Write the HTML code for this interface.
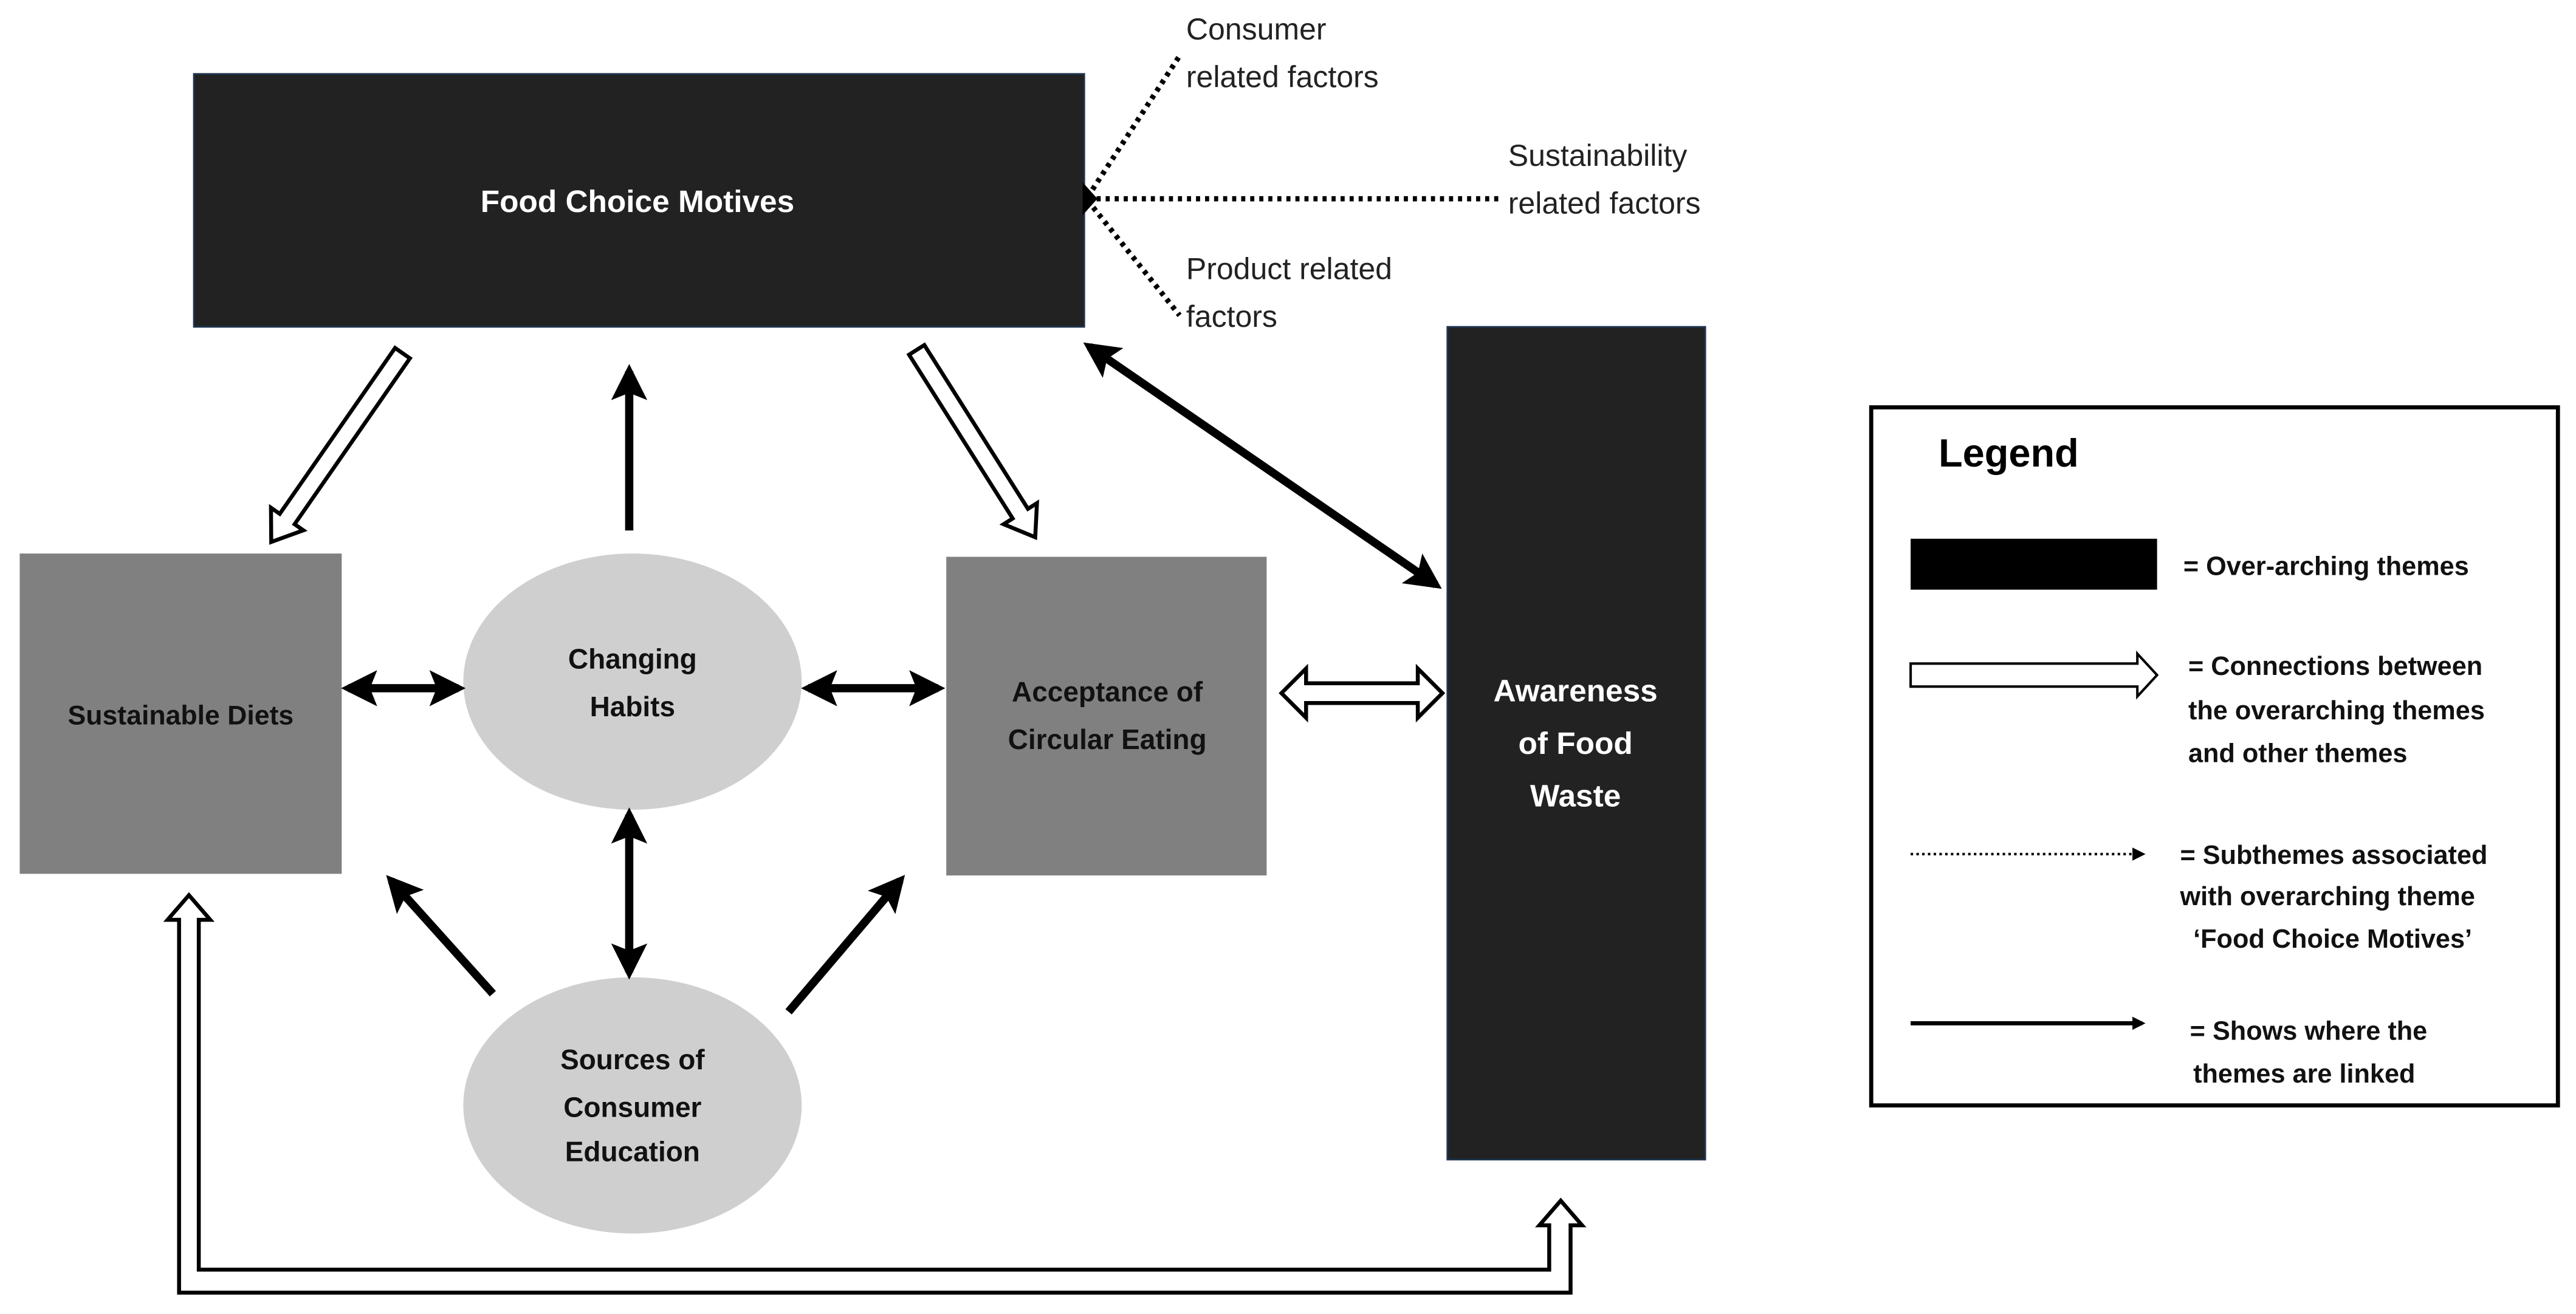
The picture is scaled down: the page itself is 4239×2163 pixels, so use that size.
<!DOCTYPE html>
<html><head><meta charset="utf-8"><style>
html,body{margin:0;padding:0;background:#fff;}
svg{display:block;}
text{font-family:"Liberation Sans",sans-serif;}
.b{font-weight:bold;}
</style></head><body>
<svg width="4239" height="2163" viewBox="0 0 1568 800" preserveAspectRatio="none" xmlns="http://www.w3.org/2000/svg">
<defs>
<marker id="h" markerUnits="userSpaceOnUse" markerWidth="22" markerHeight="22" refX="16" refY="10" orient="auto-start-reverse" viewBox="0 0 20 20">
<path d="M0,0 L20,10 L0,20 L4,10 Z" fill="#000"/></marker>
<marker id="d" markerUnits="userSpaceOnUse" markerWidth="8" markerHeight="8" refX="6" refY="4" orient="auto" viewBox="0 0 8 8">
<path d="M0,0 L8,4 L0,8 Z" fill="#000"/></marker>
</defs>

<rect x="118" y="45" width="542" height="154" fill="#222" stroke="#1f3550" stroke-width="1"/>
<text x="388" y="129" fill="#fff" class="b" font-size="19" text-anchor="middle">Food Choice Motives</text>

<rect x="12" y="337" width="196" height="195" fill="#808080"/>
<text x="110" y="441" class="b" font-size="16.5" text-anchor="middle" fill="#111">Sustainable Diets</text>

<ellipse cx="385" cy="415" rx="103" ry="78" fill="#d0cfcf"/>
<text x="385" y="407" class="b" font-size="17" text-anchor="middle" fill="#111">Changing</text>
<text x="385" y="436" class="b" font-size="17" text-anchor="middle" fill="#111">Habits</text>

<rect x="576" y="339" width="195" height="194" fill="#808080"/>
<text x="674" y="427" class="b" font-size="17" text-anchor="middle" fill="#111">Acceptance of</text>
<text x="674" y="456" class="b" font-size="17" text-anchor="middle" fill="#111">Circular Eating</text>

<rect x="881" y="199" width="157" height="507" fill="#222" stroke="#1f3550" stroke-width="1"/>
<text x="959" y="427" class="b" font-size="19" text-anchor="middle" fill="#fff">Awareness</text>
<text x="959" y="459" class="b" font-size="19" text-anchor="middle" fill="#fff">of Food</text>
<text x="959" y="491" class="b" font-size="19" text-anchor="middle" fill="#fff">Waste</text>

<ellipse cx="385" cy="673" rx="103" ry="78" fill="#d0cfcf"/>
<text x="385" y="651" class="b" font-size="17" text-anchor="middle" fill="#111">Sources of</text>
<text x="385" y="680" class="b" font-size="17" text-anchor="middle" fill="#111">Consumer</text>
<text x="385" y="707" class="b" font-size="17" text-anchor="middle" fill="#111">Education</text>

<g stroke="#000" stroke-width="3.2" stroke-dasharray="2.5,3" fill="none">
<line x1="662" y1="120" x2="718" y2="34"/>
<line x1="662" y1="121" x2="914" y2="121"/>
<line x1="662" y1="122" x2="718" y2="192"/>
</g>
<path d="M659,111 L668,121 L659,131 Z" fill="#000"/>
<text x="722" y="24" font-size="18.5" fill="#222">Consumer</text>
<text x="722" y="53" font-size="18.5" fill="#222">related factors</text>
<text x="918" y="101" font-size="18.5" fill="#222">Sustainability</text>
<text x="918" y="130" font-size="18.5" fill="#222">related factors</text>
<text x="722" y="170" font-size="18.5" fill="#222">Product related</text>
<text x="722" y="199" font-size="18.5" fill="#222">factors</text>

<g fill="#fff" stroke="#000" stroke-width="2.4" stroke-linejoin="miter">
<polygon transform="translate(245,215) rotate(124.8)" points="0,-5.5 123,-5.5 123,-12 140,0 123,12 123,5.5 0,5.5"/>
<polygon transform="translate(558,213) rotate(57.7)" points="0,-5.5 118,-5.5 118,-12 135,0 118,12 118,5.5 0,5.5"/>
<polygon points="780,422 795,407 795,416 863,416 863,407 878,422 863,437 863,428 795,428 795,437"/>
<polygon points="115,545 128,560 121,560 121,773 943,773 943,746 937,746 950,731 963,746 956,746 956,787 109,787 109,560 102,560"/>
</g>

<g stroke="#000" stroke-width="5" fill="none">
<line x1="383" y1="323" x2="383" y2="226" marker-end="url(#h)"/>
<line x1="212" y1="419" x2="279" y2="419" marker-start="url(#h)" marker-end="url(#h)"/>
<line x1="492" y1="419" x2="571" y2="419" marker-start="url(#h)" marker-end="url(#h)"/>
<line x1="383" y1="496" x2="383" y2="592" marker-start="url(#h)" marker-end="url(#h)"/>
<line x1="300" y1="605" x2="238" y2="536" marker-end="url(#h)"/>
<line x1="480" y1="616" x2="548" y2="536" marker-end="url(#h)"/>
<line x1="663" y1="211" x2="874" y2="356" marker-start="url(#h)" marker-end="url(#h)"/>
</g>

<rect x="1139" y="248" width="418" height="425" fill="#fff" stroke="#000" stroke-width="2.5"/>
<text x="1180" y="284" class="b" font-size="24" fill="#000">Legend</text>
<rect x="1163" y="328" width="150" height="31" fill="#000"/>
<text x="1329" y="350" class="b" font-size="16" fill="#111">= Over-arching themes</text>
<polygon points="1163,404 1301,404 1301,398 1313,411 1301,424 1301,418 1163,418" fill="#fff" stroke="#000" stroke-width="1.5"/>
<text x="1332" y="411" class="b" font-size="16" fill="#111">= Connections between</text>
<text x="1332" y="438" class="b" font-size="16" fill="#111">the overarching themes</text>
<text x="1332" y="464" class="b" font-size="16" fill="#111">and other themes</text>
<line x1="1163" y1="520" x2="1304" y2="520" stroke="#000" stroke-width="1.5" stroke-dasharray="1.5,2" marker-end="url(#d)"/>
<text x="1327" y="526" class="b" font-size="16" fill="#111">= Subthemes associated</text>
<text x="1327" y="551" class="b" font-size="16" fill="#111">with overarching theme</text>
<text x="1335" y="577" class="b" font-size="16" fill="#111">‘Food Choice Motives’</text>
<line x1="1163" y1="623" x2="1304" y2="623" stroke="#000" stroke-width="2.5" marker-end="url(#d)"/>
<text x="1333" y="633" class="b" font-size="16" fill="#111">= Shows where the</text>
<text x="1335" y="659" class="b" font-size="16" fill="#111">themes are linked</text>
</svg>
</body></html>
